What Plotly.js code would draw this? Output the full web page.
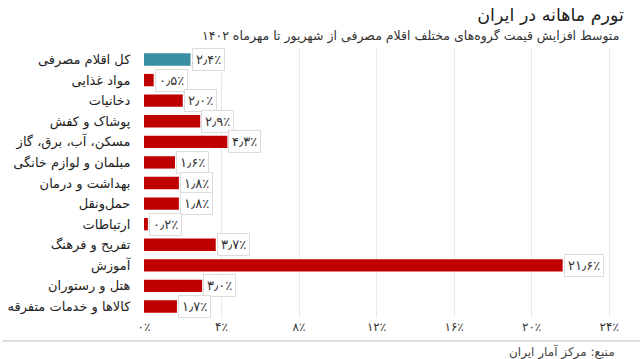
<!DOCTYPE html>
<html><head><meta charset="utf-8">
<script src="https://cdn.plot.ly/plotly-3.0.1.min.js"></script>
<style>html,body{margin:0;padding:0;background:#fff;}#chart{width:640px;height:359px;}</style>
</head><body><div id="chart"></div>
<script>
const categories = [
  "کل اقلام مصرفی",
  "مواد غذایی",
  "دخانیات",
  "پوشاک و کفش",
  "مسکن، آب، برق، گاز",
  "مبلمان و لوازم خانگی",
  "بهداشت و درمان",
  "حمل‌ونقل",
  "ارتباطات",
  "تفریح و فرهنگ",
  "آموزش",
  "هتل و رستوران",
  "کالاها و خدمات متفرقه"
];
const values = [2.4, 0.5, 2.0, 2.9, 4.3, 1.6, 1.8, 1.8, 0.2, 3.7, 21.6, 3.0, 1.7];
const tickVals = [0, 4, 8, 12, 16, 20, 24];
const tickLabels = ["۰٪", "۴٪", "۸٪", "۱۲٪", "۱۶٪", "۲۰٪", "۲۴٪"];
const titleText = "تورم ماهانه در ایران";
const subtitleText = "متوسط افزایش قیمت گروه‌های مختلف اقلام مصرفی از شهریور تا مهرماه ۱۴۰۲";
const sourceText = "منبع: مرکز آمار ایران";

const faDigits = "۰۱۲۳۴۵۶۷۸۹";
function toFa(v) {
  return v.toFixed(1).replace(/\d/g, d => faDigits[+d]).replace(".", "٫") + "٪";
}
const colors = values.map((v, i) => i === 0 ? "#3a8ea3" : "#c00000");
const FONT = "DejaVu Sans, Noto Sans, sans-serif";

const trace = {
  type: "bar", orientation: "h",
  x: values, y: categories,
  marker: {color: colors},
  hoverinfo: "none"
};

const annotations = values.map((v, i) => ({
  x: v, y: categories[i], xref: "x", yref: "y",
  text: toFa(v), showarrow: false, xanchor: "left", xshift: 1,
  bgcolor: "#ffffff", bordercolor: "#dcdcdc", borderwidth: 1, borderpad: 3,
  font: {family: FONT, size: 13, color: "#333"}
}));
annotations.push({
  xref: "paper", yref: "paper", x: 1.012, y: 1, xanchor: "right", yanchor: "bottom",
  text: subtitleText, showarrow: false, yshift: 2,
  font: {family: FONT, size: 12.5, color: "#333"}
});
annotations.push({
  xref: "paper", yref: "paper", x: 1.005, y: 0, xanchor: "right", yanchor: "top",
  text: sourceText, showarrow: false, yshift: -24,
  font: {family: FONT, size: 12, color: "#444"}
});

const layout = {
  width: 640, height: 359,
  margin: {l: 144, r: 25, t: 48, b: 41},
  paper_bgcolor: "#fff", plot_bgcolor: "#fff",
  showlegend: false,
  bargap: 0.4,
  title: {text: titleText, x: 0.975, xanchor: "right", y: 0.975, yanchor: "top",
          font: {family: FONT, size: 17.5, color: "#222"}},
  xaxis: {range: [0, 24.3], tickvals: tickVals, ticktext: tickLabels,
          showgrid: true, gridcolor: "#e9e9e9", zeroline: false,
          showline: false, ticks: "", fixedrange: true,
          tickfont: {family: FONT, size: 12, color: "#333"}},
  yaxis: {autorange: "reversed", showgrid: false, zeroline: false,
          ticks: "outside", ticklen: 10, tickcolor: "rgba(0,0,0,0)",
          tickfont: {family: FONT, size: 13, color: "#222"}},
  annotations: annotations,
  shapes: [{type: "line", xref: "paper", yref: "paper", x0: -0.3, x1: 1.1, y0: -0.085, y1: -0.085,
            line: {color: "#bbbbbb", width: 1}}]
};
Plotly.newPlot("chart", [trace], layout, {displayModeBar: false, staticPlot: true});
</script></body></html>
